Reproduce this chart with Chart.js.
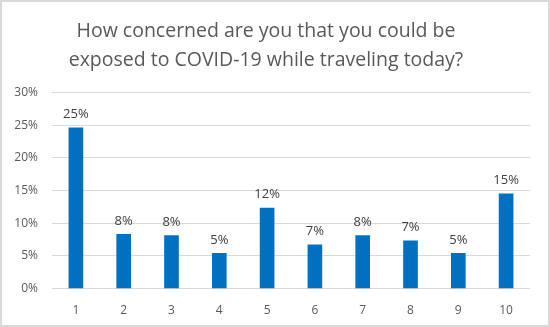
<!DOCTYPE html>
<html>
<head>
<meta charset="utf-8">
<script src="https://cdn.jsdelivr.net/npm/chart.js@4.4.1/dist/chart.umd.min.js"></script>
<style>
    html, body { margin: 0; padding: 0; background: #fff; }
    #wrap {
        width: 550px; height: 327px; box-sizing: border-box;
        border: 2px solid #d9d9d9; background: #fff;
    }
    #chart { display: block; }
</style>
</head>
<body>
<div id="wrap"><canvas id="chart" width="546" height="323"></canvas></div>
<script>
const categories = ['1', '2', '3', '4', '5', '6', '7', '8', '9', '10'];
const shares = [24.6, 8.3, 8.1, 5.4, 12.3, 6.7, 8.1, 7.3, 5.4, 14.5];
const yTicks = [0, 5, 10, 15, 20, 25, 30];

const textColor = '#595959';
const fontFamily = '"Open Sans", "Noto Sans", sans-serif';

// value labels above each bar
const barLabels = {
    id: 'barLabels',
    afterDatasetsDraw(chart) {
        const ctx = chart.ctx;
        const meta = chart.getDatasetMeta(0);
        ctx.save();
        ctx.font = '13px ' + fontFamily;
        ctx.fillStyle = '#404040';
        ctx.textAlign = 'center';
        ctx.textBaseline = 'bottom';
        meta.data.forEach((bar, i) => {
            ctx.fillText(Math.round(shares[i]) + '%', bar.x, bar.y - 7);
        });
        ctx.restore();
    }
};

new Chart(document.getElementById('chart').getContext('2d'), {
    type: 'bar',
    data: {
        labels: categories,
        datasets: [{
            data: shares,
            backgroundColor: '#0070c0',
            borderWidth: 0,
            barThickness: 14
        }]
    },
    options: {
        responsive: false,
        animation: false,
        layout: { padding: { left: 0, right: 18, top: 0, bottom: 0 } },
        plugins: {
            legend: { display: false },
            tooltip: { enabled: false },
            title: {
                display: true,
                text: ['How concerned are you that you could be', 'exposed to COVID-19 while traveling today?'],
                color: textColor,
                font: { family: fontFamily, size: 19.5, weight: 'normal', lineHeight: 1.5 },
                padding: { top: 15, bottom: 17 }
            }
        },
        scales: {
            x: {
                grid: { display: false },
                border: { display: false },
                ticks: { color: textColor, font: { family: fontFamily, size: 12 }, padding: 7 }
            },
            y: {
                min: 0,
                max: 30,
                afterBuildTicks(scale) {
                    scale.ticks = yTicks.map(v => ({ value: v }));
                },
                afterFit(scale) { scale.width = 50; },
                grid: { color: '#d9d9d9', lineWidth: 1, drawTicks: false },
                border: { display: false },
                ticks: {
                    color: textColor,
                    font: { family: fontFamily, size: 12 },
                    padding: 14,
                    callback: v => v + '%'
                }
            }
        }
    },
    plugins: [barLabels]
});
</script>
</body>
</html>
